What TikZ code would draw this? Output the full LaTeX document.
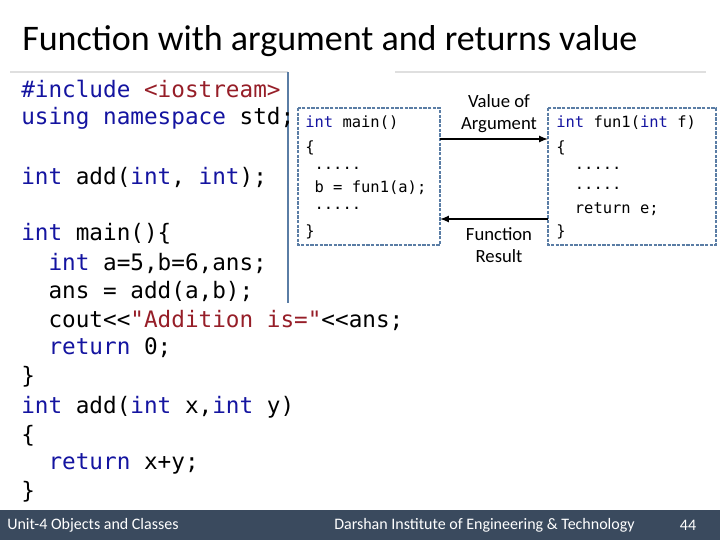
\documentclass[tikz,border=0pt]{standalone}
\usepackage{fontspec}
\setmainfont{Carlito}
\newfontfamily\codefont{DejaVu Sans Mono}
\usetikzlibrary{positioning,calc}
\definecolor{kwblue}{RGB}{20,20,160}
\definecolor{strred}{RGB}{150,30,40}
\definecolor{boxblue}{RGB}{90,125,165}
\definecolor{barslate}{RGB}{58,74,94}
\newcommand{\kw}[1]{\textcolor{kwblue}{#1}}
\newcommand{\str}[1]{\textcolor{strred}{#1}}
\tikzset{
  bigcode/.style={anchor=west,inner sep=0pt,font=\codefont\fontsize{17}{20}\selectfont},
  smallcode/.style={anchor=west,inner sep=0pt,font=\codefont\fontsize{11.6}{14}\selectfont},
  codebox/.style={draw=boxblue,line width=1.6pt,dash pattern=on 2.5pt off 1pt},
  lbl/.style={inner sep=0pt,align=center,font=\fontsize{14}{16.5}\selectfont},
  foot/.style={inner sep=0pt,text=white,font=\fontsize{12}{14}\selectfont},
  flow/.style={->,>=latex,line width=1.3pt}
}
\begin{document}
\begin{tikzpicture}[x=0.75pt,y=-0.75pt]
	\useasboundingbox (0,0) rectangle (720,540);
	%title
	\node[anchor=west,inner sep=0pt,font=\fontsize{27}{32}\selectfont] (title) at (22,41) {Function with argument and returns value};
	\draw[gray!25,line width=0.8pt] (10,72)--(288,72);
	\draw[gray!25,line width=0.8pt] (395,72)--(706,72);
	\draw[boxblue,line width=2pt] (288,72)--(288,303);
	
	%left listing
	\node[bigcode] (l1) at (21,89) {\kw{\#include} \str{<iostream>}};
	\node[bigcode] (l2) at (21,118) {\kw{using namespace} std;};
	\node[bigcode] (l3) at (21,177) {\kw{int} add(\kw{int}, \kw{int});};
	\node[bigcode] (l4) at (21,234) {\kw{int} main()\{};
	\node[bigcode] (l5) at (21,263) {\ \ \kw{int} a=5,b=6,ans;};
	\node[bigcode] (l6) at (21,291) {\ \ ans = add(a,b);};
	\node[bigcode] (l7) at (21,320) {\ \ cout<{}<\str{"Addition is="}<{}<ans;};
	\node[bigcode] (l8) at (21,348) {\ \ \kw{return} 0;};
	\node[bigcode] (l9) at (21,377) {\}};
	\node[bigcode] (l10) at (21,407) {\kw{int} add(\kw{int} x,\kw{int} y)};
	\node[bigcode] (l11) at (21,436) {\{};
	\node[bigcode] (l12) at (21,464) {\ \ \kw{return} x+y;};
	\node[bigcode] (l13) at (21,492) {\}};
	
	%boxes
	\draw[codebox] (298,108) rectangle (440,245);
	\draw[codebox] (548,108) rectangle (716,245);
	\coordinate (mainE) at (440,139);
	\coordinate (funW) at (548,139);
	\coordinate (funRet) at (548,219);
	\coordinate (mainRet) at (440,219);
	
	%main box text
	\node[smallcode] (m1) at (305,123) {\kw{int} main()};
	\node[smallcode] (m2) at (305,148) {\{};
	\node[smallcode] (m3) at (305,168) {\ .....};
	\node[smallcode] (m4) at (305,188) {\ b = fun1(a);};
	\node[smallcode] (m5) at (305,208) {\ .....};
	\node[smallcode] (m6) at (305,232) {\}};
	
	%fun1 box text
	\node[smallcode] (f1) at (556,123) {\kw{int} fun1(\kw{int} f)};
	\node[smallcode] (f2) at (556,148) {\{};
	\node[smallcode] (f3) at (556,168) {\ \ .....};
	\node[smallcode] (f4) at (556,188) {\ \ .....};
	\node[smallcode] (f5) at (556,209) {\ \ return e;};
	\node[smallcode] (f6) at (556,232) {\}};
	
	%arrows
	\draw[flow] (mainE)--(funW);
	\draw[flow] (funRet)--(mainRet);
	\node[lbl] (arglbl) at (499,114) {Value of\\Argument};
	\node[lbl] (reslbl) at (499,245) {Function\\Result};
	
	%footer
	\fill[barslate] (0,510) rectangle (720,540);
	\node[foot,anchor=west] (unit) at (7,525) {Unit-4 Objects and Classes};
	\node[foot,anchor=west] (inst) at (334,525) {Darshan Institute of Engineering \& Technology};
	\node[foot] (page) at (688,525) {44};
\end{tikzpicture}
\end{document}
